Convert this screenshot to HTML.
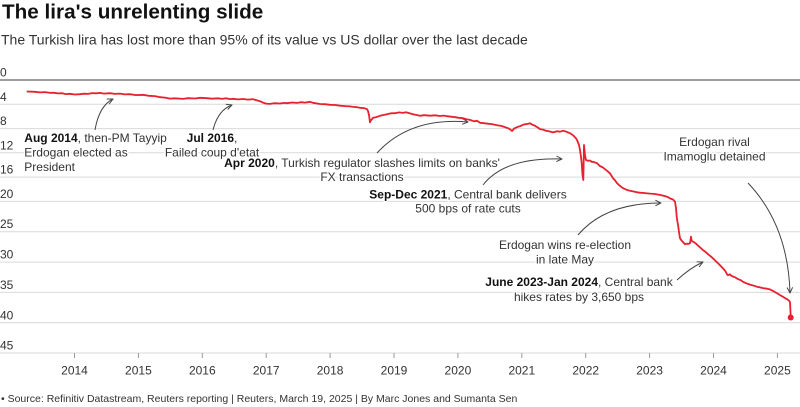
<!DOCTYPE html>
<html>
<head>
<meta charset="utf-8">
<style>
  html,body{margin:0;padding:0;background:#fff;}
  body{width:800px;height:407px;overflow:hidden;}
  svg{display:block;font-family:"Liberation Sans",Arial,sans-serif;}
  .grid{stroke:#d9d9d9;stroke-width:1;}
  .yl{font-size:12px;fill:#333;}
  .xl{font-size:12px;fill:#333;text-anchor:middle;}
  .ann{font-size:12px;fill:#333;stroke:#fff;stroke-width:3px;paint-order:stroke;stroke-linejoin:round;}
  .ann tspan.b{font-weight:bold;fill:#111;}
  .arr{fill:none;stroke:#444;stroke-width:1;}
</style>
</head>
<body>
<svg width="800" height="407" viewBox="0 0 800 407" xmlns="http://www.w3.org/2000/svg">
  <defs>
    <marker id="ah" viewBox="0 0 10 10" refX="9" refY="5" markerWidth="7" markerHeight="7" orient="auto" markerUnits="userSpaceOnUse">
      <path d="M1,1 L9,5 L1,9" fill="none" stroke="#444" stroke-width="1.4"/>
    </marker>
  </defs>

  <!-- Title -->
  <text x="2" y="18.5" font-size="20.7" font-weight="bold" fill="#111">The lira's unrelenting slide</text>
  <text x="1" y="44.5" font-size="14" fill="#333">The Turkish lira has lost more than 95% of its value vs US dollar over the last decade</text>

  <!-- gridlines -->
  <g class="grid">
    <line x1="0" x2="800" y1="104.3" y2="104.3"/>
    <line x1="0" x2="800" y1="128.6" y2="128.6"/>
    <line x1="0" x2="800" y1="152.8" y2="152.8"/>
    <line x1="0" x2="800" y1="177.1" y2="177.1"/>
    <line x1="0" x2="800" y1="201.4" y2="201.4"/>
    <line x1="0" x2="800" y1="231.7" y2="231.7"/>
    <line x1="0" x2="800" y1="262.1" y2="262.1"/>
    <line x1="0" x2="800" y1="292.4" y2="292.4"/>
    <line x1="0" x2="800" y1="322.8" y2="322.8"/>
    <line x1="0" x2="800" y1="353" y2="353"/>
  </g>
  <line x1="0" x2="800" y1="80" y2="80" stroke="#666" stroke-width="1.2"/>

  <!-- y labels -->
  <g class="yl">
    <text x="0" y="76.5">0</text>
    <text x="0" y="100.8">4</text>
    <text x="0" y="125.1">8</text>
    <text x="0" y="149.3">12</text>
    <text x="0" y="173.6">16</text>
    <text x="0" y="197.9">20</text>
    <text x="0" y="228.2">25</text>
    <text x="0" y="258.6">30</text>
    <text x="0" y="288.9">35</text>
    <text x="0" y="319.3">40</text>
    <text x="0" y="349.5">45</text>
  </g>

  <!-- x ticks -->
  <g stroke="#999" stroke-width="1">
    <line x1="74.5" x2="74.5" y1="353" y2="358"/>
    <line x1="138.4" x2="138.4" y1="353" y2="358"/>
    <line x1="202.3" x2="202.3" y1="353" y2="358"/>
    <line x1="266.2" x2="266.2" y1="353" y2="358"/>
    <line x1="330.1" x2="330.1" y1="353" y2="358"/>
    <line x1="394" x2="394" y1="353" y2="358"/>
    <line x1="457.9" x2="457.9" y1="353" y2="358"/>
    <line x1="521.8" x2="521.8" y1="353" y2="358"/>
    <line x1="585.7" x2="585.7" y1="353" y2="358"/>
    <line x1="649.6" x2="649.6" y1="353" y2="358"/>
    <line x1="713.5" x2="713.5" y1="353" y2="358"/>
    <line x1="777.4" x2="777.4" y1="353" y2="358"/>
  </g>
  <g class="xl">
    <text x="74.5" y="374.5">2014</text>
    <text x="138.4" y="374.5">2015</text>
    <text x="202.3" y="374.5">2016</text>
    <text x="266.2" y="374.5">2017</text>
    <text x="330.1" y="374.5">2018</text>
    <text x="394" y="374.5">2019</text>
    <text x="457.9" y="374.5">2020</text>
    <text x="521.8" y="374.5">2021</text>
    <text x="585.7" y="374.5">2022</text>
    <text x="649.6" y="374.5">2023</text>
    <text x="713.5" y="374.5">2024</text>
    <text x="777.4" y="374.5">2025</text>
  </g>

  <!-- annotations -->
  <text class="ann" x="24.3" y="142"><tspan class="b">Aug 2014</tspan>, then-PM Tayyip</text>
  <text class="ann" x="24.3" y="156.5">Erdogan elected as</text>
  <text class="ann" x="24.3" y="171">President</text>

  <text class="ann" x="212" y="142" text-anchor="middle"><tspan class="b">Jul 2016</tspan>,</text>
  <text class="ann" x="212" y="156.5" text-anchor="middle">Failed coup d'etat</text>

  <text class="ann" x="362" y="167" text-anchor="middle"><tspan class="b">Apr 2020</tspan>, Turkish regulator slashes limits on banks'</text>
  <text class="ann" x="362" y="181" text-anchor="middle">FX transactions</text>

  <text class="ann" x="468" y="198.5" text-anchor="middle"><tspan class="b">Sep-Dec 2021</tspan>, Central bank delivers</text>
  <text class="ann" x="468" y="212.5" text-anchor="middle">500 bps of rate cuts</text>

  <text class="ann" x="565" y="249" text-anchor="middle">Erdogan wins re-election</text>
  <text class="ann" x="565" y="263.5" text-anchor="middle">in late May</text>

  <text class="ann" x="579" y="286" text-anchor="middle"><tspan class="b">June 2023-Jan 2024</tspan>, Central bank</text>
  <text class="ann" x="579" y="301" text-anchor="middle">hikes rates by 3,650 bps</text>

  <text class="ann" x="714.5" y="146" text-anchor="middle">Erdogan rival</text>
  <text class="ann" x="714.5" y="160.5" text-anchor="middle">Imamoglu detained</text>

  <!-- arrows -->
  <path class="arr" marker-end="url(#ah)" d="M95,130 Q99,106 113,99"/>
  <path class="arr" marker-end="url(#ah)" d="M213,130 Q218,110 232,105"/>
  <path class="arr" marker-end="url(#ah)" d="M377,153 Q410,117 468,122"/>
  <path class="arr" marker-end="url(#ah)" d="M483,185 Q505,157 562,159"/>
  <path class="arr" marker-end="url(#ah)" d="M578,235 Q605,203 661,203"/>
  <path class="arr" marker-end="url(#ah)" d="M677,280 Q690,268 703,262"/>
  <path class="arr" marker-end="url(#ah)" d="M748,183 Q788,225 790,293"/>

  <!-- series -->
  <polyline fill="none" stroke="#e8202f" stroke-width="1.8" stroke-linejoin="round" points="
26.7,91.5 35,91.8 40,92.4 45,92.1 50,92.9 53,92.7 58,93.4 62,93.2 66,94.1 70,93.8 75,94.5 80,94.2 84,93.7 88,93.9 92,93.1 96,93.3 100,92.9 104,93.6 110,93.2 115,93.9 120,93.6 125,94.4 130,94.2 136,95.1 143,94.8 149,95.8 155,96.1 160,97.2 165,97.6 170,98.6 175,98.3 183,98.9 188,98.2 195,98.5 200,97.8 207,98.2 212,98.7 218,98.3 222,98.9 226,98.2 230,99.1 233,98.8 238,99.4 243,99 248,99.6 253,99.2 257,100.4 260,101.2 263,102.6 266,103.6 270,103.9 274,103.2 280,103.5 284,102.9 287,103.2 292,102.5 297,102.9 301,102.2 305,102.6 310,101.8 313,102.8 316,103.3 320,104 325,104.2 330,104.8 335,105 340,105.7 345,106.1 350,106.4 353,106.9 357,107.2 360,107.8 364,108.1 367,109.2 368,111 369,115 370,122.3 371,120 372,119.2 373,117.8 376,117.2 380,115.8 383,115.1 387,114.3 391,113.3 395,113.2 399,112.4 403,112.9 406,112.3 410,113.4 414,114.5 420,115.8 424,115.2 430,115.7 435,115.3 440,116 444,115.6 447,116.2 451,116.7 455,117.2 459,117.8 463,118.2 467,119.4 470,119.9 474,121.3 477,120.8 480,122.8 484,123.2 488,123.7 492,124.1 497,125.2 501,125.9 505,127.1 508,128.2 510,129.3 512,131 514,128.7 515,128.1 518,126.8 520,126.2 523,124.8 525,124.3 528,123.9 530,123.2 532,124.5 535,125.8 538,127.6 540,129.1 543,129.6 546,130.8 550,131.5 553,132.4 557,131.3 560,131.7 563,130.8 565,131.2 568,132.4 570,133.2 572,134.5 574,136.2 576,138.4 577,140 579,145 580,150 581,157 581.7,163.3 582.5,175 583.3,180 583.7,160 584,145 584.5,150 585,155.5 586,160 588,160.8 590,160.5 592,162 593,161.7 595,162.5 597,163.2 600,166.1 603,167.5 605,169.2 608,171.6 610,173.4 612,176.5 613,178.2 615,180.3 617,183.1 620,185.9 623,188.2 627,189.9 630,190.8 633,191.4 637,192.3 640,192.7 645,193.1 650,193.6 654,193.9 657,194.4 661,195.1 665,196.1 668,197.2 670,198.4 673,199.5 675,201.7 676,208 676.7,216.7 677.5,222 678.3,226.7 679,232 680,238.3 681.5,240.5 683,242.1 685,244.2 687,243.6 688,244 690,243.2 691,236.7 691.5,240 692,241.2 693.3,241.8 696,243.6 698,245.6 700,247.3 703,250.1 706,252.3 708,254.2 711,256.6 713,258.4 716,261.4 718,263.2 721,266.3 723,268.4 725,270.6 726,272.2 727,274.3 728,275.2 730,274.3 731,275.6 733,276.6 735,277.2 738,279.1 741,280.3 743,281.8 746,283.2 750,284.6 754,285.7 757,286.8 760,287.4 763,288.1 767,288.7 770,289.4 773,290.9 775,292.1 778,293.8 780,295.1 783,296.8 785,298.1 787,299.2 789,300.6 790,302 790.7,316.7"/>
  <circle cx="790.7" cy="317.5" r="3" fill="#e8202f"/>

  <!-- footer -->
  <text x="1" y="402" font-size="10.5" fill="#333">• Source: Refinitiv Datastream, Reuters reporting | Reuters, March 19, 2025 | By Marc Jones and Sumanta Sen</text>
</svg>
</body>
</html>
